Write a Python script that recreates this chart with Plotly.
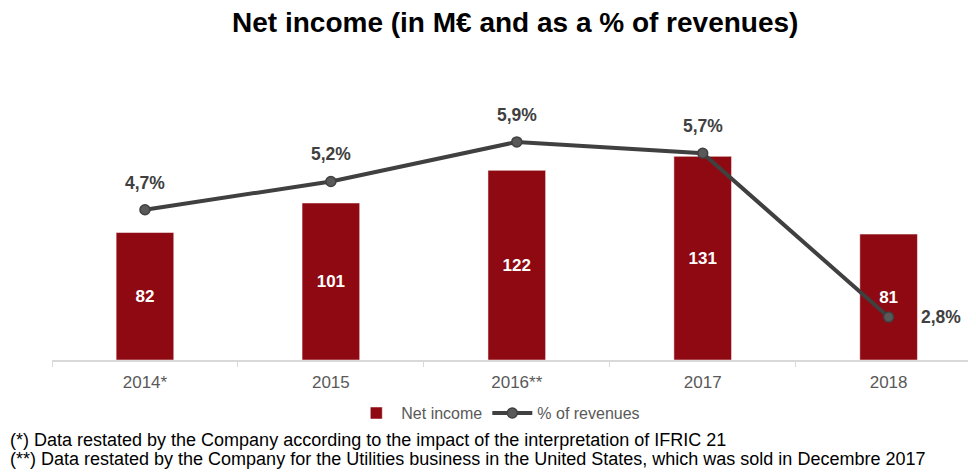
import plotly.graph_objects as go

years = ["2014*", "2015", "2016**", "2017", "2018"]
net_income = [82, 101, 122, 131, 81]
pct_revenues = [4.7, 5.2, 5.9, 5.7, 2.8]
footnotes = [
    "(*) Data restated by the Company according to the impact of the interpretation of IFRIC 21",
    "(**) Data restated by the Company for the Utilities business in the United States, which was sold in Decembre 2017",
]

_BAR = "#8e0911"
_LINE = "#404040"
_FONT = "Liberation Sans, Arial, sans-serif"


def _pct(v):
    return f"{v:.1f}%".replace(".", ",")


fig = go.Figure()
fig.add_trace(go.Bar(
    x=years, y=net_income, name="Net income", marker_color=_BAR, width=0.31,
    text=[str(v) for v in net_income], textposition="inside", insidetextanchor="middle",
    textfont=dict(color="white", size=17, family=_FONT, weight="bold"),
    hoverinfo="skip"))
fig.add_trace(go.Scatter(
    x=years, y=pct_revenues, name="% of revenues", yaxis="y2", mode="lines+markers",
    line=dict(color=_LINE, width=4),
    marker=dict(size=10, color="#595959", line=dict(color=_LINE, width=1.5)),
    hoverinfo="skip"))

# percentage labels: above the points, last one to the right (x given as category index)
for i, v in enumerate(pct_revenues):
    last = i == len(pct_revenues) - 1
    fig.add_annotation(
        x=i, y=v, xref="x", yref="y2", text=_pct(v), showarrow=False,
        xshift=52 if last else 0, yshift=0 if last else 27,
        font=dict(size=17.5, color=_LINE, family=_FONT, weight="bold"))

for k, note in enumerate(footnotes):
    fig.add_annotation(
        xref="paper", yref="paper", x=-0.0476, y=-0.267 - 0.064 * k,
        xanchor="left", yanchor="middle", text=note, showarrow=False,
        font=dict(size=18, color="black", family=_FONT))

# the page body adds an 8px offset, so the figure is 8px smaller than the window
fig.update_layout(
    width=968, height=466, template="plotly_white",
    paper_bgcolor="white", plot_bgcolor="white",
    margin=dict(l=44, r=0, t=52, b=114, autoexpand=False),
    font=dict(family=_FONT, color="#595959"),
    title=dict(text="Net income (in M€ and as a % of revenues)", x=0.524, xanchor="center",
               y=0.97, yanchor="middle",
               font=dict(size=28, color="black", family=_FONT, weight="bold")),
    showlegend=True,
    legend=dict(orientation="h", x=0.483, xanchor="center", y=-0.177, yanchor="middle",
                font=dict(size=16, color="#595959"), bgcolor="rgba(0,0,0,0)",
                itemwidth=40, tracegroupgap=0),
    xaxis=dict(type="category", range=[-0.5, 4.47], showgrid=False, showline=True,
               linecolor="#d9d9d9", linewidth=1.5, ticks="outside", tickson="boundaries",
               ticklen=5, tickcolor="#d9d9d9", ticklabelstandoff=6,
               tickfont=dict(size=17, color="#595959")),
    yaxis=dict(range=[0, 193], visible=False, showgrid=False),
    yaxis2=dict(range=[2.04, 7.35], overlaying="y", visible=False, showgrid=False),
)

fig.write_html("out.html")
